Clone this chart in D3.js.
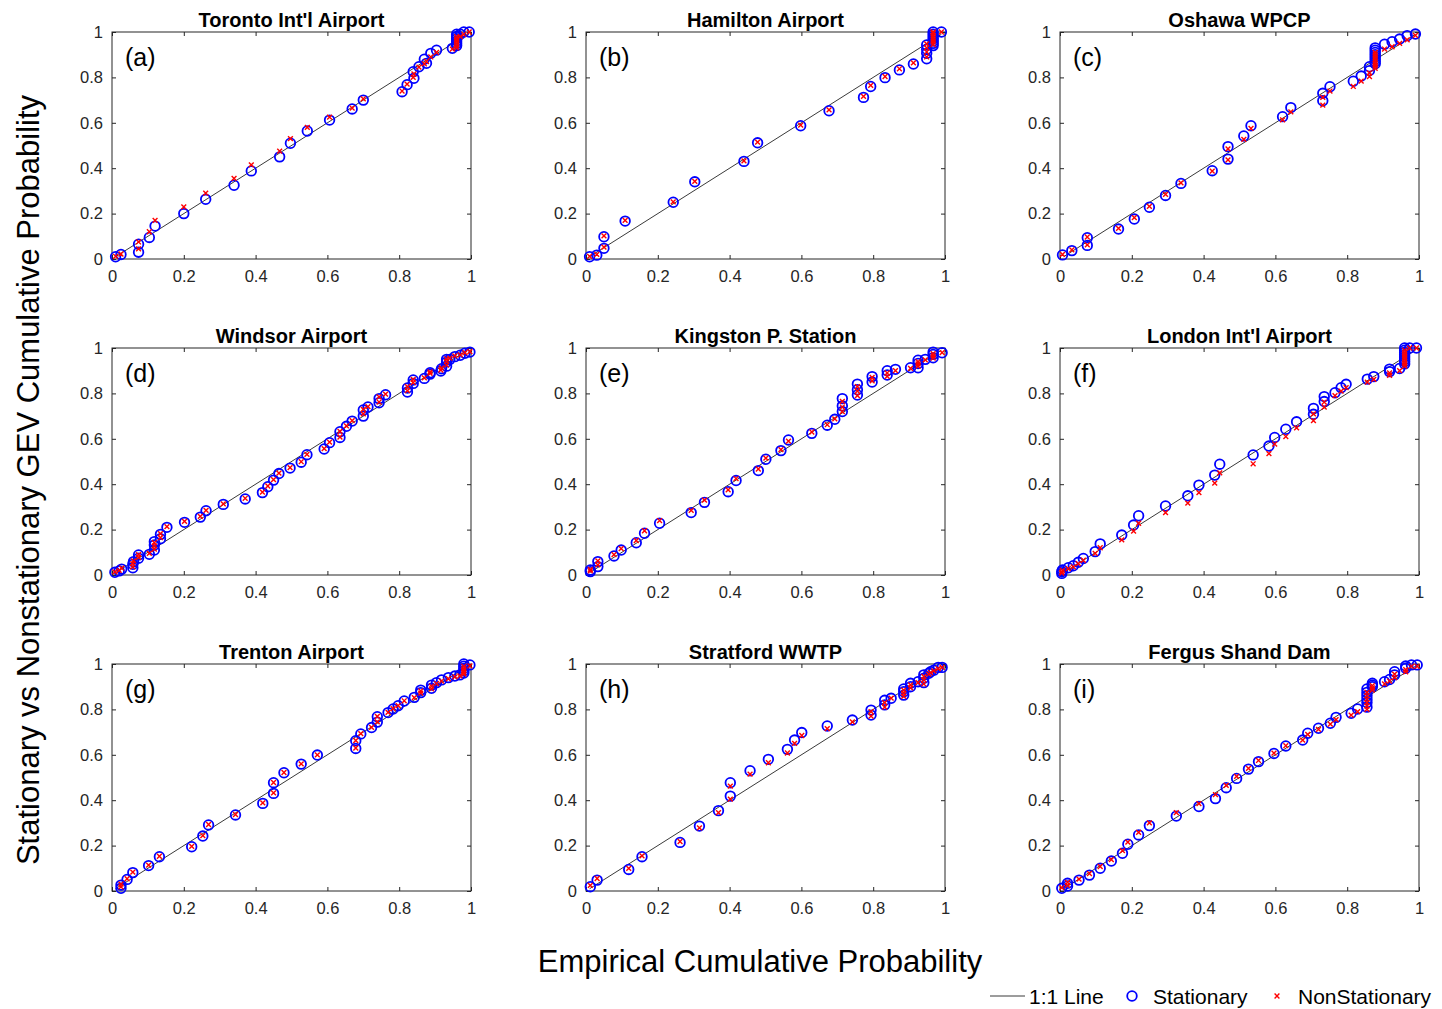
<!DOCTYPE html>
<html>
<head>
<meta charset="utf-8">
<script src="https://cdn.jsdelivr.net/npm/d3@7"></script>
<style>
  html, body { margin: 0; padding: 0; background: #fff; }
  svg { display: block; font-family: Arial, "Liberation Sans", Helvetica, sans-serif; }
</style>
</head>
<body>
<svg id="chart" width="1442" height="1009"></svg>
<script>
// Station names and panel tags
const stations = ["Toronto Int'l Airport", "Hamilton Airport", "Oshawa WPCP",
                  "Windsor Airport", "Kingston P. Station", "London Int'l Airport",
                  "Trenton Airport", "Stratford WWTP", "Fergus Shand Dam"];
const panelTags = ["(a)", "(b)", "(c)", "(d)", "(e)", "(f)", "(g)", "(h)", "(i)"];
const tickValues = [0, 0.2, 0.4, 0.6, 0.8, 1];
const tickLabels = ["0", "0.2", "0.4", "0.6", "0.8", "1"];
const oneToOne = [0.01, 0.99];

// (a) Toronto Int'l Airport
const empA  = [0.01,0.025,0.074,0.074,0.104,0.12,0.2,0.261,0.34,0.388,0.467,0.497,0.544,0.606,0.669,0.70,0.808,0.822,0.841,0.839,0.855,0.87,0.876,0.888,0.904,0.948,0.96,0.96,0.96,0.96,0.96,0.96,0.97,0.98,0.995];
const statA = [0.01,0.02,0.065,0.03,0.095,0.145,0.2,0.263,0.325,0.388,0.45,0.51,0.564,0.612,0.661,0.70,0.737,0.768,0.796,0.825,0.847,0.88,0.862,0.906,0.92,0.928,0.94,0.95,0.96,0.97,0.98,0.99,0.99,1.0,1.0];
const nonA  = [0.012,0.022,0.075,0.045,0.12,0.17,0.23,0.29,0.355,0.415,0.475,0.53,0.58,0.625,0.665,0.705,0.74,0.77,0.815,0.80,0.845,0.86,0.87,0.89,0.91,0.925,0.93,0.94,0.95,0.96,0.97,0.98,0.98,0.99,1.0];

// (b) Hamilton Airport
const empB  = [0.01,0.03,0.05,0.05,0.109,0.243,0.303,0.44,0.478,0.598,0.677,0.773,0.793,0.833,0.873,0.912,0.949,0.949,0.949,0.949,0.967,0.967,0.967,0.967,0.967,0.967,0.967,0.99];
const statB = [0.01,0.017,0.047,0.098,0.167,0.25,0.34,0.43,0.512,0.587,0.653,0.712,0.76,0.799,0.833,0.859,0.882,0.906,0.924,0.943,0.94,0.95,0.96,0.97,0.98,0.99,1.0,1.0];
const nonB  = [0.012,0.02,0.052,0.102,0.17,0.252,0.342,0.432,0.515,0.59,0.657,0.716,0.765,0.804,0.838,0.864,0.89,0.912,0.93,0.948,0.945,0.955,0.965,0.975,0.985,0.995,1.0,1.0];

// (c) Oshawa WPCP
const empC  = [0.007,0.033,0.076,0.076,0.163,0.207,0.249,0.294,0.337,0.424,0.468,0.468,0.512,0.532,0.62,0.643,0.732,0.732,0.752,0.817,0.839,0.862,0.862,0.878,0.878,0.878,0.878,0.878,0.878,0.878,0.878,0.904,0.925,0.946,0.967,0.99];
const statC = [0.018,0.037,0.094,0.06,0.132,0.176,0.228,0.28,0.333,0.389,0.44,0.495,0.542,0.587,0.627,0.667,0.697,0.73,0.759,0.783,0.806,0.83,0.847,0.86,0.87,0.88,0.89,0.90,0.91,0.92,0.93,0.946,0.957,0.969,0.984,0.991];
const nonC  = [0.02,0.04,0.097,0.062,0.135,0.182,0.232,0.285,0.335,0.387,0.437,0.485,0.527,0.575,0.613,0.648,0.678,0.712,0.74,0.76,0.784,0.804,0.82,0.84,0.85,0.86,0.87,0.88,0.89,0.90,0.91,0.925,0.935,0.95,0.965,0.985];

// (d) Windsor Airport
const empD  = [0.008,0.02,0.027,0.058,0.058,0.06,0.074,0.074,0.104,0.118,0.118,0.118,0.135,0.135,0.153,0.202,0.246,0.262,0.31,0.371,0.419,0.434,0.45,0.465,0.496,0.527,0.543,0.591,0.606,0.635,0.635,0.653,0.669,0.70,0.70,0.713,0.744,0.744,0.762,0.823,0.823,0.839,0.839,0.87,0.886,0.886,0.916,0.918,0.932,0.932,0.932,0.941,0.955,0.97,0.983,0.997];
const statD = [0.012,0.018,0.026,0.032,0.047,0.059,0.074,0.088,0.091,0.11,0.132,0.147,0.179,0.16,0.21,0.232,0.255,0.283,0.311,0.335,0.363,0.389,0.418,0.447,0.471,0.497,0.53,0.555,0.583,0.606,0.631,0.655,0.678,0.70,0.727,0.74,0.759,0.777,0.794,0.806,0.824,0.844,0.859,0.866,0.885,0.891,0.899,0.909,0.92,0.938,0.95,0.95,0.962,0.968,0.977,0.982];
const nonD  = [0.014,0.02,0.03,0.036,0.05,0.062,0.078,0.09,0.095,0.114,0.128,0.142,0.182,0.165,0.213,0.236,0.258,0.285,0.313,0.338,0.365,0.392,0.42,0.449,0.473,0.499,0.531,0.557,0.585,0.608,0.633,0.657,0.68,0.71,0.73,0.742,0.762,0.785,0.797,0.812,0.83,0.848,0.862,0.868,0.888,0.895,0.903,0.912,0.925,0.94,0.952,0.955,0.965,0.97,0.979,0.984];

// (e) Kingston P. Station
const empE  = [0.012,0.012,0.033,0.033,0.078,0.098,0.14,0.163,0.205,0.293,0.33,0.396,0.418,0.48,0.501,0.543,0.564,0.629,0.672,0.693,0.714,0.714,0.714,0.756,0.756,0.756,0.797,0.797,0.839,0.839,0.862,0.904,0.925,0.925,0.925,0.945,0.967,0.967,0.967,0.992];
const statE = [0.015,0.022,0.059,0.037,0.084,0.11,0.142,0.184,0.228,0.275,0.32,0.367,0.416,0.46,0.51,0.548,0.595,0.624,0.66,0.686,0.72,0.745,0.777,0.793,0.816,0.841,0.85,0.874,0.881,0.9,0.906,0.913,0.913,0.932,0.946,0.95,0.957,0.972,0.982,0.979];
const nonE  = [0.018,0.025,0.062,0.045,0.09,0.116,0.152,0.195,0.24,0.285,0.33,0.375,0.425,0.467,0.515,0.552,0.59,0.63,0.662,0.688,0.72,0.74,0.765,0.79,0.81,0.83,0.855,0.87,0.875,0.89,0.9,0.91,0.92,0.93,0.94,0.948,0.955,0.965,0.975,0.98];

// (f) London Int'l Airport
const empF  = [0.005,0.005,0.007,0.023,0.037,0.051,0.065,0.098,0.112,0.172,0.205,0.219,0.294,0.356,0.387,0.431,0.445,0.538,0.582,0.598,0.629,0.659,0.706,0.706,0.736,0.736,0.766,0.783,0.797,0.856,0.874,0.918,0.918,0.946,0.96,0.96,0.96,0.96,0.96,0.96,0.96,0.96,0.974,0.993];
const statF = [0.007,0.015,0.022,0.032,0.041,0.056,0.073,0.103,0.137,0.176,0.22,0.261,0.304,0.349,0.396,0.44,0.488,0.529,0.568,0.606,0.642,0.675,0.708,0.734,0.764,0.786,0.803,0.825,0.84,0.863,0.874,0.896,0.907,0.91,0.93,0.94,0.95,0.96,0.97,0.98,0.99,1.0,1.0,1.0];
const nonF  = [0.008,0.013,0.02,0.028,0.036,0.05,0.065,0.095,0.12,0.155,0.193,0.228,0.275,0.317,0.363,0.405,0.45,0.49,0.535,0.577,0.61,0.648,0.68,0.71,0.74,0.762,0.79,0.81,0.825,0.85,0.862,0.88,0.89,0.9,0.92,0.93,0.94,0.95,0.96,0.97,0.98,0.99,1.0,1.0];

// (g) Trenton Airport
const empG  = [0.025,0.025,0.042,0.058,0.102,0.132,0.222,0.253,0.269,0.344,0.42,0.45,0.45,0.479,0.527,0.572,0.679,0.679,0.693,0.723,0.739,0.739,0.769,0.783,0.797,0.814,0.842,0.86,0.86,0.89,0.89,0.904,0.918,0.937,0.955,0.969,0.98,0.98,0.98,0.98,0.98,0.997];
const statG = [0.012,0.026,0.051,0.081,0.112,0.151,0.195,0.242,0.291,0.335,0.386,0.43,0.477,0.521,0.559,0.599,0.628,0.662,0.692,0.72,0.744,0.768,0.786,0.802,0.816,0.837,0.853,0.874,0.885,0.893,0.907,0.918,0.93,0.94,0.947,0.952,0.96,0.97,0.98,0.99,1.0,0.996];
const nonG  = [0.018,0.03,0.054,0.083,0.114,0.153,0.197,0.244,0.293,0.337,0.388,0.432,0.478,0.522,0.56,0.6,0.63,0.663,0.693,0.721,0.745,0.769,0.787,0.803,0.817,0.838,0.852,0.872,0.882,0.89,0.902,0.914,0.925,0.935,0.943,0.948,0.955,0.962,0.97,0.98,0.99,0.992];

// (h) Stratford WWTP
const empH  = [0.012,0.031,0.119,0.156,0.262,0.316,0.369,0.402,0.402,0.457,0.508,0.561,0.581,0.601,0.672,0.742,0.794,0.794,0.832,0.832,0.85,0.885,0.885,0.885,0.904,0.904,0.925,0.941,0.941,0.941,0.955,0.96,0.969,0.981,0.992];
const statH = [0.019,0.048,0.095,0.151,0.214,0.286,0.354,0.418,0.477,0.53,0.58,0.624,0.665,0.698,0.727,0.753,0.775,0.797,0.82,0.84,0.849,0.863,0.878,0.89,0.9,0.915,0.922,0.918,0.937,0.952,0.959,0.966,0.973,0.985,0.985];
const nonH  = [0.025,0.055,0.1,0.155,0.218,0.278,0.345,0.405,0.462,0.515,0.565,0.608,0.65,0.685,0.715,0.745,0.77,0.79,0.81,0.83,0.85,0.858,0.872,0.885,0.895,0.908,0.918,0.912,0.93,0.945,0.955,0.962,0.97,0.98,0.985];

// (i) Fergus Shand Dam
const empI  = [0.005,0.021,0.021,0.053,0.082,0.112,0.143,0.174,0.189,0.219,0.249,0.324,0.387,0.433,0.463,0.492,0.525,0.553,0.596,0.629,0.676,0.69,0.72,0.753,0.769,0.811,0.829,0.855,0.855,0.855,0.855,0.855,0.855,0.87,0.87,0.87,0.904,0.918,0.932,0.932,0.963,0.963,0.979,0.995];
const statI = [0.012,0.022,0.034,0.048,0.07,0.1,0.132,0.166,0.206,0.247,0.288,0.33,0.372,0.407,0.455,0.496,0.537,0.57,0.606,0.639,0.665,0.695,0.717,0.739,0.765,0.783,0.802,0.81,0.83,0.845,0.86,0.875,0.89,0.9,0.907,0.915,0.922,0.932,0.952,0.966,0.981,0.991,0.996,0.996];
const nonI  = [0.015,0.025,0.038,0.052,0.077,0.108,0.138,0.178,0.215,0.258,0.3,0.345,0.385,0.425,0.465,0.505,0.54,0.575,0.607,0.64,0.665,0.69,0.712,0.735,0.755,0.775,0.79,0.80,0.815,0.83,0.845,0.86,0.875,0.885,0.895,0.905,0.912,0.925,0.94,0.955,0.965,0.975,0.99,0.99];

const panelData = [
  [empA, statA, nonA], [empB, statB, nonB], [empC, statC, nonC],
  [empD, statD, nonD], [empE, statE, nonE], [empF, statF, nonF],
  [empG, statG, nonG], [empH, statH, nonH], [empI, statI, nonI]
];

const svg = d3.select("#chart");
const axisColor = "#262626";
const panelW = 359, panelH = 227;
const colLeft = [112, 586, 1060];
const rowTop = [32, 348, 664];

panelData.forEach((d, i) => {
  const [emp, stat, non] = d;
  const left = colLeft[i % 3], top = rowTop[Math.floor(i / 3)];
  const x = d3.scaleLinear().domain([0, 1]).range([0, panelW]);
  const y = d3.scaleLinear().domain([0, 1]).range([panelH, 0]);
  const g = svg.append("g").attr("transform", `translate(${left},${top})`);

  // axes with inward ticks on all four sides
  const styleAxis = sel => {
    sel.select(".domain").remove();
    sel.selectAll("line").attr("stroke", axisColor);
    sel.selectAll("text").attr("fill", axisColor).style("font-size", "16.5px")
      .style("font-family", "Arial, 'Liberation Sans', sans-serif");
  };
  g.append("g").attr("transform", `translate(0,${panelH})`)
    .call(d3.axisBottom(x).tickValues(tickValues).tickFormat((v, k) => tickLabels[k])
      .tickSizeInner(-4).tickSizeOuter(0).tickPadding(11))
    .call(styleAxis);
  g.append("g")
    .call(d3.axisLeft(y).tickValues(tickValues).tickFormat((v, k) => tickLabels[k])
      .tickSizeInner(-4).tickSizeOuter(0).tickPadding(9))
    .call(styleAxis);
  g.append("g")
    .call(d3.axisTop(x).tickValues(tickValues).tickFormat("").tickSizeInner(-4).tickSizeOuter(0))
    .call(styleAxis);
  g.append("g").attr("transform", `translate(${panelW},0)`)
    .call(d3.axisRight(y).tickValues(tickValues).tickFormat("").tickSizeInner(-4).tickSizeOuter(0))
    .call(styleAxis);
  g.append("rect").attr("width", panelW).attr("height", panelH)
    .attr("fill", "none").attr("stroke", axisColor).attr("stroke-width", 1);

  // 1:1 reference line
  g.append("line")
    .attr("x1", x(oneToOne[0])).attr("y1", y(oneToOne[0]))
    .attr("x2", x(oneToOne[1])).attr("y2", y(oneToOne[1]))
    .attr("stroke", "#3a3a3a").attr("stroke-width", 1);

  // stationary GEV: blue circles
  g.append("g").selectAll("circle").data(emp).join("circle")
    .attr("cx", (v) => x(v)).attr("cy", (v, k) => y(stat[k])).attr("r", 4.8)
    .attr("fill", "none").attr("stroke", "#0000ff").attr("stroke-width", 1.8);

  // nonstationary GEV: red crosses
  const s = 2.4;
  g.append("g").selectAll("path").data(emp).join("path")
    .attr("d", (v, k) => {
      const cx = x(v), cy = y(non[k]);
      return `M${cx - s},${cy - s}L${cx + s},${cy + s}M${cx - s},${cy + s}L${cx + s},${cy - s}`;
    })
    .attr("stroke", "#ff0000").attr("stroke-width", 1.4).attr("fill", "none");

  // title and panel tag
  g.append("text").attr("x", panelW / 2).attr("y", -5)
    .attr("text-anchor", "middle").attr("font-weight", "bold")
    .style("font-size", "20px").attr("fill", "#000").text(stations[i]);
  g.append("text").attr("x", 13).attr("y", 34)
    .style("font-size", "25px").attr("fill", "#000").text(panelTags[i]);
});

// shared axis labels
svg.append("text").attr("x", 760).attr("y", 972).attr("text-anchor", "middle")
  .style("font-size", "31px").attr("fill", "#000").text("Empirical Cumulative Probability");
svg.append("text").attr("transform", "translate(39,480) rotate(-90)").attr("text-anchor", "middle")
  .style("font-size", "31px").attr("fill", "#000")
  .text("Stationary vs Nonstationary GEV Cumulative Probability");

// legend
const leg = svg.append("g").attr("transform", "translate(0,996)");
leg.append("line").attr("x1", 990).attr("x2", 1025).attr("y1", 0).attr("y2", 0)
  .attr("stroke", "#3a3a3a").attr("stroke-width", 1);
leg.append("text").attr("x", 1029).attr("y", 7.5).style("font-size", "21px").attr("fill", "#000").text("1:1 Line");
leg.append("circle").attr("cx", 1132).attr("cy", 0).attr("r", 4.8)
  .attr("fill", "none").attr("stroke", "#0000ff").attr("stroke-width", 1.8);
leg.append("text").attr("x", 1153).attr("y", 7.5).style("font-size", "21px").attr("fill", "#000").text("Stationary");
leg.append("path").attr("d", "M1274.6,-2.4L1279.4,2.4M1274.6,2.4L1279.4,-2.4")
  .attr("stroke", "#ff0000").attr("stroke-width", 1.4);
leg.append("text").attr("x", 1298).attr("y", 7.5).style("font-size", "21px").attr("fill", "#000").text("NonStationary");
</script>
</body>
</html>
